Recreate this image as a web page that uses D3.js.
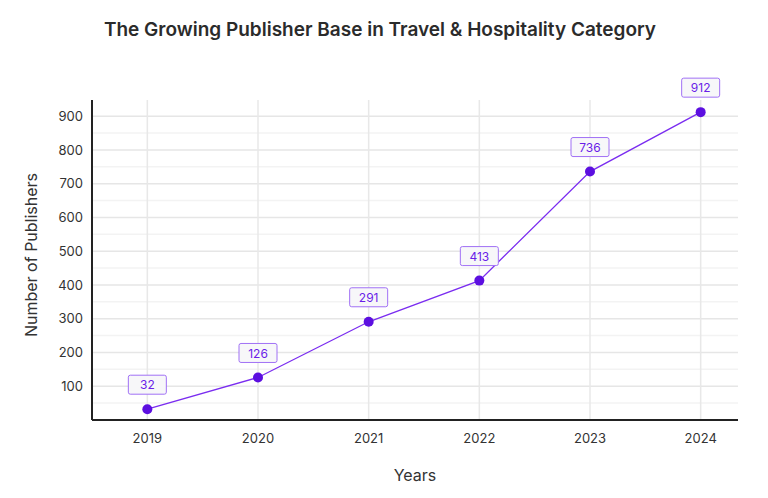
<!DOCTYPE html>
<html><head><meta charset="utf-8">
<script src="https://cdn.jsdelivr.net/npm/d3@7"></script>
<style>body{margin:0;background:#fff;font-family:Inter,"DejaVu Sans",sans-serif}</style>
</head><body>
<svg id="chart" width="768" height="498"></svg>
<script>
const years = ["2019", "2020", "2021", "2022", "2023", "2024"];
const publishers = [32, 126, 291, 413, 736, 912];
const yTicks = [100, 200, 300, 400, 500, 600, 700, 800, 900];

const svg = d3.select("#chart");
const mLeft = 92, mRight = 738, mTop = 100, mBottom = 420;

const x = d3.scalePoint().domain(years).range([mLeft, mRight + 18]).padding(0.5);
const y = d3.scaleLinear().domain([0, 948]).range([mBottom, mTop]);

svg.append("text").attr("x", 380).attr("y", 36).attr("text-anchor", "middle")
    .attr("font-size", 19).attr("font-weight", 600).attr("fill", "#2b2b2b")
    .text("The Growing Publisher Base in Travel & Hospitality Category");

// minor grid
svg.append("g").selectAll("line").data(d3.range(50, 948, 100)).join("line")
    .attr("x1", mLeft).attr("x2", mRight).attr("y1", d => y(d)).attr("y2", d => y(d))
    .attr("stroke", "#f3f3f3").attr("stroke-width", 1.5);
// major grid
svg.append("g").selectAll("line").data(yTicks).join("line")
    .attr("x1", mLeft).attr("x2", mRight).attr("y1", d => y(d)).attr("y2", d => y(d))
    .attr("stroke", "#e6e6e6").attr("stroke-width", 1.5);
svg.append("g").selectAll("line").data(years).join("line")
    .attr("x1", d => x(d)).attr("x2", d => x(d)).attr("y1", mTop).attr("y2", mBottom)
    .attr("stroke", "#e8e8e8").attr("stroke-width", 1.5);

// axes
svg.append("line").attr("x1", mLeft).attr("x2", mLeft).attr("y1", mTop).attr("y2", mBottom)
    .attr("stroke", "#222").attr("stroke-width", 2);
svg.append("line").attr("x1", mLeft).attr("x2", mRight).attr("y1", mBottom).attr("y2", mBottom)
    .attr("stroke", "#222").attr("stroke-width", 2);

svg.append("g").selectAll("text").data(yTicks).join("text")
    .attr("x", mLeft - 9).attr("y", d => y(d)).attr("dy", "0.35em").attr("text-anchor", "end")
    .attr("font-size", 13).attr("fill", "#333").text(d => d);
svg.append("g").selectAll("text").data(years).join("text")
    .attr("x", d => x(d)).attr("y", 443).attr("text-anchor", "middle")
    .attr("font-size", 13).attr("fill", "#333").text(d => d);

svg.append("text").attr("x", 415).attr("y", 481).attr("text-anchor", "middle")
    .attr("font-size", 16).attr("fill", "#333").text("Years");
svg.append("text").attr("transform", "translate(37,255) rotate(-90)").attr("text-anchor", "middle")
    .attr("font-size", 16).attr("fill", "#333").text("Number of Publishers");

const pts = years.map((yr, i) => ({ yr, v: publishers[i] }));

svg.append("path").datum(pts)
    .attr("d", d3.line().x(d => x(d.yr)).y(d => y(d.v)))
    .attr("fill", "none").attr("stroke", "#7a2cf0").attr("stroke-width", 1.3);

svg.append("g").selectAll("circle").data(pts).join("circle")
    .attr("cx", d => x(d.yr)).attr("cy", d => y(d.v)).attr("r", 5).attr("fill", "#5c0fe0");

const lab = svg.append("g").selectAll("g").data(pts).join("g")
    .attr("transform", d => `translate(${x(d.yr)},${y(d.v) - 24})`);
lab.append("rect").attr("x", -19).attr("y", -10).attr("width", 38).attr("height", 19)
    .attr("rx", 2).attr("fill", "#f7f7f9").attr("stroke", "#a070f5");
lab.append("text").attr("dy", "0.35em").attr("text-anchor", "middle")
    .attr("font-size", 12).attr("fill", "#6a1ee8").text(d => d.v);
</script>
</body></html>
